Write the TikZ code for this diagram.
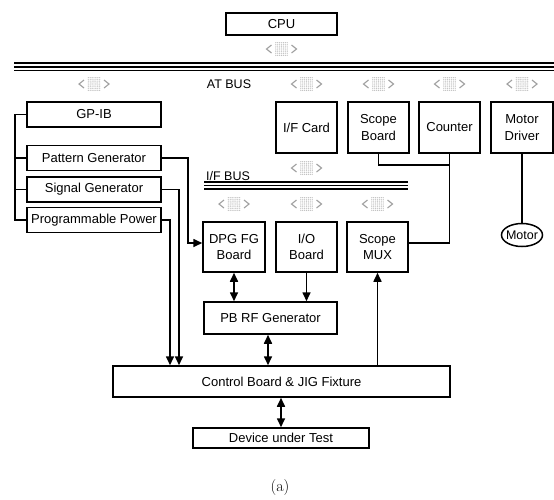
\documentclass[tikz,border=0pt]{standalone}
\usepackage{fontspec}
\newfontfamily\diagsans{Liberation Sans}
\usetikzlibrary{arrows.meta,calc,shapes.geometric}
\begin{document}
\begin{tikzpicture}[x=1pt,y=-1pt,
  box/.style={draw, line width=1.5pt, inner sep=1pt, align=center,
    font=\diagsans\fontsize{13}{16.5}\selectfont},
  lbl/.style={inner sep=0pt, font=\diagsans\fontsize{12.5}{14}\selectfont},
  conn/.style={line width=1.6pt},
  arr/.style={conn, -{Triangle[length=9pt,width=8pt]}},
  darr/.style={conn, {Triangle[length=9pt,width=8pt]}-{Triangle[length=9pt,width=8pt]}},
  busline/.style={line width=1.5pt},
  busicon/.pic={
    \foreach \i in {-3,...,3}{\foreach \j in {-3,...,3}{
      \fill[gray!50] (\i*1.9,\j*2.1) circle (0.7);}}
    \draw[gray!75, line width=1.1pt] (-10,-4) -- (-15,0) -- (-10,4)
                                     (10,-4) -- (15,0) -- (10,4);
  }]
\useasboundingbox (0,0) rectangle (554,499);

% CPU and AT bus
\node[box, minimum width=111, minimum height=22] (cpu) at (281.5,24) {CPU};
\pic at (281.5,49) {busicon};
\draw[busline, line width=2.2pt] (14,63) -- (554,63);
\draw[busline] (14,67) -- (554,67);
\draw[busline] (14,70.5) -- (554,70.5);
\node[lbl] (atbus) at (229,84) {AT BUS};
\foreach \x in {94,306.5,378.5,449.5,522} { \pic at (\x,84) {busicon}; }

% instruments on GP-IB
\node[box, minimum width=134, minimum height=25] (gpib)    at (94,114.5) {GP-IB};
\node[box, minimum width=134, minimum height=25] (pattern) at (94,158)   {Pattern Generator};
\node[box, minimum width=134, minimum height=25] (signal)  at (94,189.5) {Signal Generator};
\node[box, minimum width=134, minimum height=25] (power)   at (94,220)   {Programmable Power};
\draw[conn] (gpib.west) -- ++(-11,0) |- (power.west);
\draw[conn] (pattern.west) -- ++(-11,0);
\draw[conn] (signal.west) -- ++(-11,0);

% cards on the AT bus
\node[box, minimum width=61, minimum height=51] (ifcard)  at (306.5,127.5) {I/F Card};
\node[box, minimum width=61, minimum height=51] (sboard)  at (378.5,127.5) {Scope\\Board};
\node[box, minimum width=61, minimum height=51] (counter) at (449.5,127.5) {Counter};
\node[box, minimum width=62, minimum height=51] (mdriver) at (522,127.5)   {Motor\\Driver};
\node[draw, ellipse, line width=1.5pt, minimum width=41, minimum height=23,
      inner xsep=-3pt, inner ysep=2pt,
      font=\diagsans\fontsize{12.5}{14}\selectfont] (motor) at (522,235) {Motor};
\draw[conn] (mdriver.south) -- (motor.north);

% I/F bus
\pic at (306.5,168) {busicon};
\draw[busline] (204,182) -- (408,182);
\draw[busline] (204,185.5) -- (408,185.5);
\draw[busline] (204,189) -- (408,189);
\node[lbl] (ifbus) at (228,176) {I/F BUS};
\foreach \x in {234,306.5,377.5} { \pic at (\x,204) {busicon}; }

% boards on the I/F bus
\node[box, minimum width=62, minimum height=50] (dpg)  at (234,247)   {DPG FG\\Board};
\node[box, minimum width=61, minimum height=50] (io)   at (306.5,247) {I/O\\Board};
\node[box, minimum width=61, minimum height=50] (smux) at (377.5,247) {Scope\\MUX};
\node[box, minimum width=133, minimum height=32] (pbrf) at (270.5,318) {PB RF Generator};
\node[box, minimum width=337, minimum height=31] (control) at (281.5,381.5) {Control Board \& JIG Fixture};
\node[box, minimum width=176, minimum height=20] (dut) at (281,438) {Device under Test};

% signal paths
\coordinate (pgturn) at (188,243);
\coordinate (sgdrop) at (179,0);
\coordinate (pwdrop) at (170,0);
\coordinate (cjoin)  at (449.5,165);
\draw[arr] (pattern.east) -| (pgturn) -- (pgturn -| dpg.west);
\draw[arr] (signal.east) -| (sgdrop |- control.north);
\draw[arr] (power.east) -| (pwdrop |- control.north);
\draw[conn] (sboard.south) |- (cjoin);
\draw[conn] (counter.south) |- ($(smux.east)+(0,-4)$);
\draw[darr] (dpg.south) -- (dpg.south |- pbrf.north);
\draw[arr] (io.south) -- (io.south |- pbrf.north);
\draw[darr] ($(pbrf.south)+(-2.5,0)$) -- ($(pbrf.south |- control.north)+(-2.5,0)$);
\draw[arr] (smux.south |- control.north) -- (smux.south);
\draw[darr] (control.south -| dut.north) -- (dut.north);

\node (caption) at (280,487) {\fontsize{16}{18}\selectfont (a)};
\end{tikzpicture}
\end{document}
